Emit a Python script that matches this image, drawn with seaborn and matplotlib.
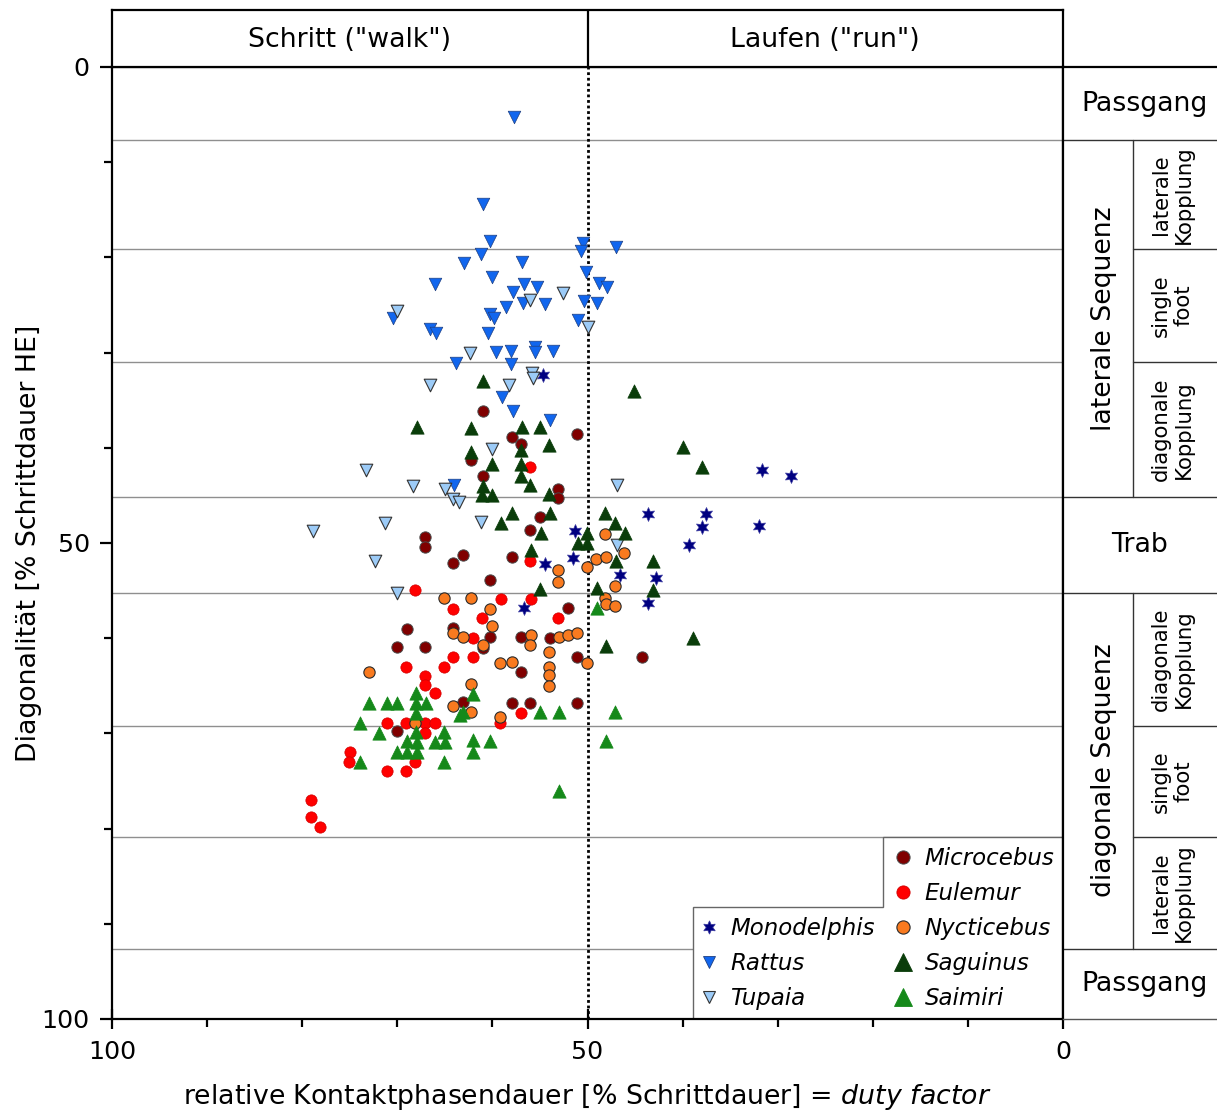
import matplotlib
matplotlib.use("Agg")
import matplotlib.pyplot as plt
from matplotlib.lines import Line2D
from matplotlib.patches import Polygon
import pandas as pd
import seaborn as sns

# ---- data: duty factor [% stride] (x) and diagonality [% stride HE] (y) ----
microcebus_x = [61.0, 57.9, 57.0, 51.1, 62.3, 61.0, 53.1, 53.1, 55.0, 56.0, 67.1, 67.1, 63.1, 64.1, 57.9, 60.2, 52.1,
                69.0, 64.1, 60.2, 57.0, 53.9, 61.0, 70.0, 67.1, 51.1, 57.0, 44.3, 63.1, 57.9, 56.0, 51.1, 70.0]
microcebus_y = [36.1, 38.9, 39.6, 38.6, 41.3, 43.0, 44.3, 45.3, 47.3, 48.6, 49.4, 50.4, 51.3, 52.1, 51.5, 53.9, 56.8,
                59.0, 58.9, 59.9, 59.9, 60.0, 61.0, 60.9, 60.9, 62.0, 63.5, 62.0, 66.7, 66.8, 66.8, 66.8, 69.8]

eulemur_x = [56.0, 56.0, 59.1, 55.9, 61.1, 53.1, 62.0, 68.1, 64.1, 64.1, 62.0, 69.1, 65.1, 67.1, 67.1, 66.0,
             71.1, 69.1, 67.1, 66.0, 67.1, 75.0, 75.1, 68.1, 71.1, 69.1, 79.1, 79.1, 78.1, 57.0, 59.2]
eulemur_y = [42.0, 51.9, 55.9, 55.9, 57.9, 57.9, 60.0, 54.9, 56.9, 62.0, 62.0, 63.0, 63.0, 64.0, 64.9, 65.8,
             68.9, 68.9, 68.9, 68.9, 70.0, 72.0, 73.0, 73.0, 74.0, 74.0, 77.0, 78.8, 79.8, 67.9, 68.9]

nycticebus_x = [65.1, 62.2, 64.1, 63.1, 60.2, 60.0, 55.9, 53.0, 52.1, 51.1, 53.1, 53.1, 50.1, 49.1, 48.1, 48.2,
                46.2, 47.1, 48.2, 48.1, 47.1, 61.0, 56.0, 54.1, 59.2, 57.9, 54.1, 54.1, 54.1, 50.1, 62.2, 62.2,
                59.2, 73.0, 64.1, 68.1]
nycticebus_y = [55.8, 55.8, 59.5, 59.9, 56.9, 58.7, 59.7, 59.9, 59.7, 59.5, 52.8, 54.1, 52.5, 51.7, 51.5, 49.1,
                51.1, 54.5, 55.8, 56.4, 56.6, 60.7, 60.7, 61.5, 62.6, 62.5, 63.0, 63.9, 65.0, 62.6, 64.8, 67.8,
                68.3, 63.6, 67.1, 68.9]

monodelphis_x = [54.7, 51.3, 54.5, 51.5, 56.7, 46.6, 43.6, 37.5, 38.0, 32.0, 39.3, 31.6, 28.6, 42.8, 43.6]
monodelphis_y = [32.4, 48.7, 52.2, 51.6, 56.8, 53.4, 47.0, 47.0, 48.3, 48.2, 50.2, 42.3, 43.0, 53.7, 56.3]

rattus_x = [57.7, 61.0, 60.3, 50.5, 50.7, 47.0, 61.2, 63.0, 56.9, 50.2, 60.0, 48.8, 48.0, 66.0, 56.7, 55.3,
            57.8, 56.8, 58.6, 54.5, 50.4, 49.0, 60.2, 59.8, 60.5, 51.0, 59.6, 58.0, 55.5, 55.5, 53.6, 58.0,
            59.0, 57.8, 53.9, 70.5, 66.6, 65.9, 63.8, 64.0]
rattus_y = [5.3, 14.4, 18.3, 18.5, 19.3, 18.9, 19.6, 20.6, 20.5, 21.5, 22.1, 22.7, 23.1, 22.8, 22.8, 23.1,
            23.6, 24.8, 25.2, 24.9, 24.6, 24.8, 25.9, 26.4, 27.9, 26.6, 29.9, 29.8, 29.4, 29.9, 29.8, 31.2,
            34.7, 36.1, 37.1, 26.4, 27.5, 27.9, 31.1, 43.9]

tupaia_x = [56.0, 52.6, 50.0, 62.4, 70.0, 66.6, 55.8, 55.7, 58.3, 60.0, 73.3, 68.4, 65.0, 64.1, 63.5, 78.9,
            71.3, 72.3, 70.0, 46.9, 46.9, 61.2]
tupaia_y = [24.5, 23.7, 27.3, 30.0, 25.6, 33.4, 32.1, 32.7, 33.4, 40.1, 42.3, 44.0, 44.3, 45.4, 45.7, 48.7,
            47.9, 51.9, 55.2, 43.9, 50.2, 47.8]

saguinus_x = [61.0, 67.9, 62.3, 56.9, 55.0, 45.1, 54.1, 57.0, 62.3, 60.0, 57.0, 57.0, 61.0, 61.1, 60.0, 56.0,
              54.1, 59.1, 57.9, 53.9, 54.9, 50.1, 51.0, 50.1, 55.9, 55.0, 49.0, 48.2, 47.1, 46.1, 47.0, 43.1,
              43.1, 40.0, 38.0, 38.9, 48.1]
saguinus_y = [33.0, 37.8, 37.9, 37.8, 37.8, 34.0, 39.7, 40.2, 40.4, 41.7, 41.7, 43.0, 44.0, 45.0, 45.0, 43.9,
              44.9, 47.9, 46.9, 46.9, 49.0, 49.0, 50.0, 50.0, 50.7, 54.8, 54.7, 46.9, 47.9, 49.0, 51.9, 51.9,
              54.9, 39.9, 42.0, 60.0, 60.8]

saimiri_x = [49.0, 73.0, 71.1, 70.0, 68.0, 68.0, 67.0, 68.0, 73.9, 68.0, 71.9, 65.1, 69.0, 67.9, 66.0, 65.0,
             70.0, 69.0, 67.9, 73.9, 65.1, 63.4, 62.0, 63.1, 55.0, 53.0, 47.1, 62.0, 60.2, 62.0, 48.1, 53.0]
saimiri_y = [56.8, 66.8, 66.8, 66.8, 65.8, 66.8, 66.8, 67.9, 68.9, 69.9, 70.0, 69.9, 70.8, 70.9, 70.9, 70.9,
             72.0, 72.0, 72.0, 73.0, 73.0, 68.1, 65.9, 67.8, 67.8, 67.8, 67.8, 70.7, 70.8, 72.0, 70.8, 76.0]

# gait-category boundaries on the diagonality axis
zone_bounds = [7.7, 19.1, 31.0, 45.2, 55.2, 69.2, 80.9, 92.6]

series = {
    "Monodelphis": (monodelphis_x, monodelphis_y),
    "Rattus": (rattus_x, rattus_y),
    "Tupaia": (tupaia_x, tupaia_y),
    "Microcebus": (microcebus_x, microcebus_y),
    "Eulemur": (eulemur_x, eulemur_y),
    "Nycticebus": (nycticebus_x, nycticebus_y),
    "Saguinus": (saguinus_x, saguinus_y),
    "Saimiri": (saimiri_x, saimiri_y),
}

# marker, size (pt^2), face colour, edge colour, edge width, legend marker size
styles = {
    "Microcebus":  ("o", 66, "#800000", "#4a4a4a", 0.7, 9.5),
    "Eulemur":     ("o", 66, "#ff0000", "#d00000", 0.5, 9.5),
    "Nycticebus":  ("o", 66, "#f97a1f", "#2a2a2a", 0.8, 9.5),
    "Monodelphis": ((6, 1, 0), 100, "#000080", "#3a3aa0", 0.5, 9.5),
    "Rattus":      ("v", 82, "#1166ee", "#1f3f80", 0.5, 9.0),
    "Tupaia":      ("v", 82, "#9ccbf7", "#333333", 0.8, 9.0),
    "Saguinus":    ("^", 92, "#0a3d0a", "#0a3d0a", 0.5, 13.0),
    "Saimiri":     ("^", 92, "#15891a", "#15891a", 0.5, 13.0),
}

frames = [pd.DataFrame({"duty": xs, "diag": ys, "species": name}) for name, (xs, ys) in series.items()]
df = pd.concat(frames, ignore_index=True)

sns.set_style("ticks")
plt.rcParams["font.family"] = ["DejaVu Sans"]
plt.rcParams["mathtext.fontset"] = "custom"
plt.rcParams["mathtext.it"] = "DejaVu Sans:italic"
plt.rcParams["mathtext.rm"] = "DejaVu Sans"
for key in ("text.color", "axes.labelcolor", "xtick.color", "ytick.color", "axes.edgecolor"):
    plt.rcParams[key] = "black"

W, H = 1217, 1112
fig = plt.figure(figsize=(W / 100, H / 100), dpi=100)
fig.patch.set_facecolor("white")


def rect(x0, y0, x1, y1):
    return [x0 / W, 1 - y1 / H, (x1 - x0) / W, (y1 - y0) / H]


ax = fig.add_axes(rect(112, 67, 1063, 1019))
hdr = fig.add_axes(rect(112, 10, 1063, 67))
pan = fig.add_axes(rect(1063, 67, 1217, 1019))

FS = 19.3
TFS = 18.3
SPINE = 1.6

# ---- main scatter ----
for name in series:
    m, s, fc, ec, lw, _ = styles[name]
    sub = df[df["species"] == name]
    sns.scatterplot(data=sub, x="duty", y="diag", ax=ax, marker=m, s=s, color=fc,
                    edgecolor=ec, linewidth=lw, legend=False, zorder=4)

for b in zone_bounds:
    ax.axhline(b, color="#8f8f8f", lw=1.0, zorder=0.5)
ax.axvline(50, color="black", lw=2.0, ls=(0, (1, 1)), zorder=3)

ax.set_xlim(100, 0)
ax.set_ylim(100, 0)
ax.set_xticks([100, 50, 0])
ax.set_xticks([90, 80, 70, 60, 40, 30, 20, 10], minor=True)
ax.set_yticks([0, 50, 100])
ax.set_yticks([10, 20, 30, 40, 60, 70, 80, 90], minor=True)
ax.tick_params(axis="x", which="major", direction="inout", length=14, width=SPINE, labelsize=TFS, pad=8)
ax.tick_params(axis="x", which="minor", direction="out", length=6, width=SPINE)
ax.tick_params(axis="y", which="major", direction="out", length=9, width=SPINE, labelsize=TFS, pad=7)
ax.tick_params(axis="y", which="minor", direction="out", length=6, width=SPINE)
for sp in ax.spines.values():
    sp.set_linewidth(SPINE)
    sp.set_color("black")
    sp.set_visible(True)

ax.set_xlabel(r"relative Kontaktphasendauer [% Schrittdauer] = $\mathit{duty\ factor}$", fontsize=FS)
ax.set_ylabel("Diagonalität [% Schrittdauer HE]", fontsize=FS)
ax.xaxis.set_label_coords(0.5, -0.066)
ax.yaxis.set_label_coords(-0.074, 0.5)

# ---- stepped legend box ----
box = Polygon([(0.611, 0.0), (0.611, 0.1176), (0.8107, 0.1176), (0.8107, 0.1912), (1.0, 0.1912), (1.0, 0.0)],
              closed=True, transform=ax.transAxes, facecolor="white", edgecolor="#666666", lw=1.0, zorder=2.5)
ax.add_patch(box)


def handle(name):
    m, s, fc, ec, lw, ms = styles[name]
    return Line2D([], [], ls="", marker=m, markersize=ms, markerfacecolor=fc, markeredgecolor=ec,
                  markeredgewidth=max(lw, 0.6))


right_names = ["Microcebus", "Eulemur", "Nycticebus", "Saguinus", "Saimiri"]
left_names = ["Monodelphis", "Rattus", "Tupaia"]
leg_kw = dict(frameon=False, borderpad=0, borderaxespad=0, handlelength=1.0, handletextpad=0.42,
              labelspacing=0.53, prop={"size": 16.5, "style": "italic"}, loc="upper left")
leg_r = ax.legend([handle(n) for n in right_names], right_names, bbox_to_anchor=(0.8202, 0.1810), **leg_kw)
leg_r.set_zorder(5)
ax.add_artist(leg_r)
leg_l = ax.legend([handle(n) for n in left_names], left_names, bbox_to_anchor=(0.6157, 0.1075), **leg_kw)
leg_l.set_zorder(5)

# ---- header: walk / run ----
hdr.set_xlim(100, 0)
hdr.set_ylim(0, 1)
hdr.set_xticks([])
hdr.set_yticks([])
for sp in hdr.spines.values():
    sp.set_linewidth(SPINE)
    sp.set_color("black")
    sp.set_visible(True)
hdr.axvline(50, color="black", lw=SPINE)
hdr.text(75, 0.48, 'Schritt ("walk")', ha="center", va="center", fontsize=FS)
hdr.text(25, 0.48, 'Laufen ("run")', ha="center", va="center", fontsize=FS)

# ---- right panel: gait categories ----
pan.set_xlim(0, 1)
pan.set_ylim(100, 0)
pan.set_xticks([])
pan.set_yticks([])
for k, sp in pan.spines.items():
    sp.set_color("black")
    sp.set_linewidth(SPINE)
pan.spines["right"].set_visible(False)
pan.spines["bottom"].set_linewidth(1.0)
pan.spines["bottom"].set_color("#555555")

LC = "#333333"
split = 0.4545
for b in (zone_bounds[0], zone_bounds[3], zone_bounds[4], zone_bounds[7]):
    pan.plot([0, 1], [b, b], color=LC, lw=1.0)
pan.plot([split, split], [zone_bounds[0], zone_bounds[3]], color=LC, lw=1.0)
pan.plot([split, split], [zone_bounds[4], zone_bounds[7]], color=LC, lw=1.0)
for b in (zone_bounds[1], zone_bounds[2], zone_bounds[5], zone_bounds[6]):
    pan.plot([split, 1], [b, b], color=LC, lw=1.0)

pan.text(0.53, zone_bounds[0] / 2, "Passgang", ha="center", va="center", fontsize=FS)
pan.text(0.5, (zone_bounds[3] + zone_bounds[4]) / 2, "Trab", ha="center", va="center", fontsize=FS)
pan.text(0.53, (zone_bounds[7] + 100) / 2, "Passgang", ha="center", va="center", fontsize=FS)
pan.text(0.265, (zone_bounds[0] + zone_bounds[3]) / 2, "laterale Sequenz", rotation=90,
         ha="center", va="center", fontsize=FS)
pan.text(0.265, (zone_bounds[4] + zone_bounds[7]) / 2, "diagonale Sequenz", rotation=90,
         ha="center", va="center", fontsize=FS)

sub_labels = [
    (zone_bounds[0], zone_bounds[1], "laterale\nKopplung"),
    (zone_bounds[1], zone_bounds[2], "single\nfoot"),
    (zone_bounds[2], zone_bounds[3], "diagonale\nKopplung"),
    (zone_bounds[4], zone_bounds[5], "diagonale\nKopplung"),
    (zone_bounds[5], zone_bounds[6], "single\nfoot"),
    (zone_bounds[6], zone_bounds[7], "laterale\nKopplung"),
]
for lo, hi, txt in sub_labels:
    pan.text(0.71, (lo + hi) / 2, txt, rotation=90, ha="center", va="center", fontsize=15.3,
             multialignment="center", linespacing=1.2)

fig.savefig("out.png", dpi=100, facecolor="white")
